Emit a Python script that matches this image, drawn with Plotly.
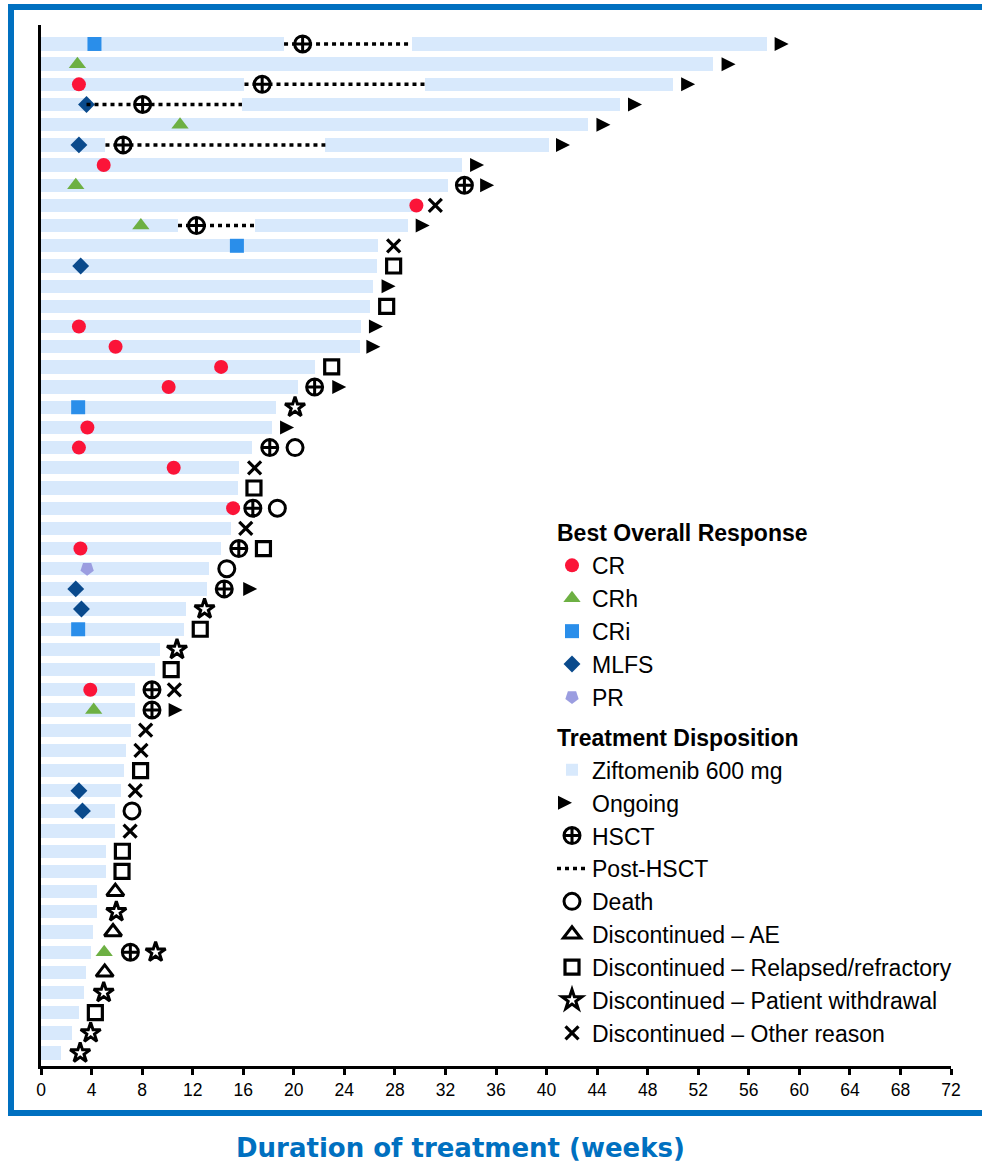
import plotly.graph_objects as go

# ---------------- data (weeks) ----------------
rows = list(range(1, 52))
duration = [57.44, 53.2, 50.0, 45.85, 43.3, 40.2, 33.3, 32.2, 29.4, 29.0,
            26.7, 26.6, 26.3, 26.0, 25.3, 25.2, 21.7, 20.3, 18.6, 18.26,
            16.7, 15.7, 15.6, 15.0, 15.0, 14.25, 13.3, 13.1, 11.44, 11.3,
            9.44, 9.04, 7.46, 7.46, 7.15, 6.73, 6.57, 6.3, 5.88, 5.88,
            5.17, 5.17, 4.44, 4.44, 4.15, 3.99, 3.57, 3.44, 3.02, 2.46, 1.56]

# post-HSCT interruption of treatment bar
gap_rows = [1, 3, 4, 6, 10]
gap_start = [19.23, 16.1, 3.6, 5.1, 10.84]
gap_end = [29.34, 30.4, 15.9, 22.5, 16.9]

# best overall response
cr_rows = [3, 7, 9, 15, 16, 17, 18, 20, 21, 22, 24, 26, 33]
cr_weeks = [3.0, 4.96, 29.7, 3.0, 5.9, 14.25, 10.1, 3.67, 3.0, 10.5, 15.2, 3.12, 3.9]
crh_rows = [2, 5, 8, 10, 34, 46]
crh_weeks = [2.88, 11.0, 2.75, 7.9, 4.17, 5.0]
cri_rows = [1, 11, 19, 30]
cri_weeks = [4.23, 15.5, 2.94, 2.94]
mlfs_rows = [4, 6, 12, 28, 29, 38, 39]
mlfs_weeks = [3.6, 3.0, 3.14, 2.75, 3.2, 3.0, 3.28]
pr_rows = [27]
pr_weeks = [3.65]

# treatment disposition events
hsct_rows = [1, 3, 4, 6, 8, 10, 18, 21, 24, 26, 28, 33, 34, 46]
hsct_weeks = [20.7, 17.5, 8.04, 6.5, 33.5, 12.3, 21.65, 18.1, 16.76, 15.65, 14.5, 8.78, 8.78, 7.07]
ongoing_rows = [1, 2, 3, 4, 5, 6, 7, 8, 10, 13, 15, 16, 18, 20, 28, 34]
ongoing_weeks = [58.6, 54.4, 51.2, 47.0, 44.5, 41.3, 34.5, 35.3, 30.2, 27.5, 26.5, 26.3, 23.6, 19.47, 16.55, 10.65]
death_rows = [21, 24, 27, 39]
death_weeks = [20.1, 18.7, 14.7, 7.2]
ae_rows = [43, 45, 47]
ae_weeks = [5.88, 5.7, 5.04]
rr_rows = [12, 14, 17, 23, 26, 30, 32, 37, 41, 42, 49]
rr_weeks = [27.9, 27.35, 23.0, 16.85, 17.6, 12.6, 10.3, 7.88, 6.44, 6.41, 4.3]
pw_rows = [19, 29, 31, 44, 46, 48, 50, 51]
pw_weeks = [20.1, 12.94, 10.76, 5.96, 9.07, 4.96, 3.93, 3.1]
other_rows = [9, 11, 22, 25, 33, 35, 36, 38, 40]
other_weeks = [31.2, 27.9, 16.9, 16.2, 10.55, 8.28, 7.91, 7.46, 7.05]

x_ticks = list(range(0, 73, 4))

# ---------------- styling ----------------
BAR_COLOR = "#D8E9FC"
FONT = "Liberation Sans, Arial, sans-serif"
W, H = 982, 1165
L, R, T, B = 41, 31, 25, 99
PW, PH = W - L - R, H - T - B
X_MAX = 72
PX_PER_WEEK = PW / X_MAX
ARROW_SIZE = 14


def px_to_paper_x(px):
    return (px - L) / PW


def px_to_paper_y(py):
    return (H - B - py) / PH


fig = go.Figure()

# bars: first segment (start to HSCT gap or end)
first_len = []
for r, d in zip(rows, duration):
    if r in gap_rows:
        first_len.append(gap_start[gap_rows.index(r)])
    else:
        first_len.append(d)

fig.add_trace(go.Bar(
    y=rows, x=first_len, base=[0] * len(rows), orientation="h",
    width=0.66, marker=dict(color=BAR_COLOR, line=dict(width=0)),
    name="Ziftomenib 600 mg", legendgroup="disp", legendrank=10,
    legendgrouptitle=dict(text="<b>Treatment Disposition</b>",
                          font=dict(size=23, family=FONT, color="#000")),
    hoverinfo="skip",
))
# bars: resumed segment after post-HSCT interval
fig.add_trace(go.Bar(
    y=gap_rows, x=[duration[r - 1] - e for r, e in zip(gap_rows, gap_end)],
    base=gap_end, orientation="h", width=0.66,
    marker=dict(color=BAR_COLOR, line=dict(width=0)),
    name="Ziftomenib 600 mg", legendgroup="disp", showlegend=False,
    hoverinfo="skip",
))

# post-HSCT dotted lines
dx, dy = [], []
for r, s, e in zip(gap_rows, gap_start, gap_end):
    dx += [s, e, None]
    dy += [r, r, None]


def mk(name, xs, ys, symbol, size, color, group, rank, lw=0, lc=None,
       angle=0, title=None):
    t = go.Scatter(
        x=xs, y=ys, mode="markers", name=name,
        marker=dict(symbol=symbol, size=size, color=color, angle=angle,
                    line=dict(width=lw, color=lc if lc else color)),
        legendgroup=group, legendrank=rank, hoverinfo="skip",
    )
    if title:
        t.legendgrouptitle = dict(text="<b>" + title + "</b>",
                                  font=dict(size=23, family=FONT, color="#000"))
    return t


# response markers
fig.add_trace(mk("CR", cr_weeks, cr_rows, "circle", 14, "#FB1438", "resp", 1,
                 title="Best Overall Response"))
fig.add_trace(mk("CRh", crh_weeks, crh_rows, "triangle-up", 15, "#6DB043", "resp", 2))
fig.add_trace(mk("CRi", cri_weeks, cri_rows, "square", 14, "#2A8EEA", "resp", 3))
fig.add_trace(mk("MLFS", mlfs_weeks, mlfs_rows, "diamond", 13, "#0A4A8C", "resp", 4))
fig.add_trace(mk("PR", pr_weeks, pr_rows, "pentagon", 14, "#9B9DE0", "resp", 5, angle=180))

# disposition markers (arrow tip sits half a symbol right of its centre)
arrow_shift = (ARROW_SIZE / 2) / PX_PER_WEEK
fig.add_trace(mk("Ongoing", [w + arrow_shift for w in ongoing_weeks], ongoing_rows,
                 "arrow-right", ARROW_SIZE, "#000000", "disp", 11))
fig.add_trace(go.Scatter(
    x=dx, y=dy, mode="lines", name="Post-HSCT",
    line=dict(color="#000000", width=3.5, dash="4px,4px"),
    legendgroup="disp", legendrank=13, hoverinfo="skip",
))
fig.add_trace(mk("HSCT", hsct_weeks, hsct_rows, "circle-cross", 16, "#FFFFFF",
                 "disp", 12, lw=3, lc="#000000"))
fig.add_trace(mk("Death", death_weeks, death_rows, "circle-open", 16, "#000000",
                 "disp", 14, lw=3))
fig.add_trace(mk("Discontinued \u2013 AE", ae_weeks, ae_rows, "triangle-up-open", 15,
                 "#000000", "disp", 15, lw=3))
fig.add_trace(mk("Discontinued \u2013 Relapsed/refractory", rr_weeks, rr_rows,
                 "square-open", 14, "#000000", "disp", 16, lw=3.2))
fig.add_trace(mk("Discontinued \u2013 Patient withdrawal", pw_weeks, pw_rows,
                 "star-open", 15, "#000000", "disp", 17, lw=3))
fig.add_trace(mk("Discontinued \u2013 Other reason", other_weeks, other_rows,
                 "x-thin-open", 13, "#000000", "disp", 18, lw=3.2))

# blue frame (right side runs past the page edge, as in the original)
fig.add_shape(type="rect", xref="paper", yref="paper",
              x0=px_to_paper_x(11), x1=px_to_paper_x(1010),
              y0=px_to_paper_y(1113), y1=px_to_paper_y(7),
              line=dict(color="#0070C0", width=6), fillcolor="rgba(0,0,0,0)",
              layer="below")

fig.add_annotation(
    text="<b>Duration of treatment (weeks)</b>", xref="paper", yref="paper",
    x=px_to_paper_x(460), y=px_to_paper_y(1148), xanchor="center", yanchor="middle",
    showarrow=False, font=dict(size=26, family="DejaVu Sans", color="#0070C0"),
)

fig.update_layout(
    width=W, height=H, margin=dict(l=L, r=R, t=T, b=B),
    paper_bgcolor="white", plot_bgcolor="white",
    barmode="overlay", bargap=0,
    font=dict(family=FONT, color="#000000"),
    showlegend=True,
    legend=dict(
        x=px_to_paper_x(552), y=px_to_paper_y(511), xanchor="left", yanchor="top",
        traceorder="grouped", tracegroupgap=7, bgcolor="rgba(0,0,0,0)",
        font=dict(size=23, family=FONT, color="#000000"),
    ),
    xaxis=dict(
        range=[0, X_MAX], tickvals=x_ticks, showgrid=False, zeroline=False,
        showline=True, linecolor="#000000", linewidth=3,
        ticks="outside", ticklen=6, tickwidth=2.5, tickcolor="#000000",
        tickfont=dict(size=17.5, family=FONT, color="#000000"),
    ),
    yaxis=dict(
        range=[51.64, 0.06], showgrid=False, zeroline=False, showticklabels=False,
        showline=True, linecolor="#000000", linewidth=3, ticks="",
    ),
)

fig.write_html(
    "out.html",
    config={"displayModeBar": False},
    post_script="document.body.style.margin='0px';document.body.style.overflow='hidden';",
)
